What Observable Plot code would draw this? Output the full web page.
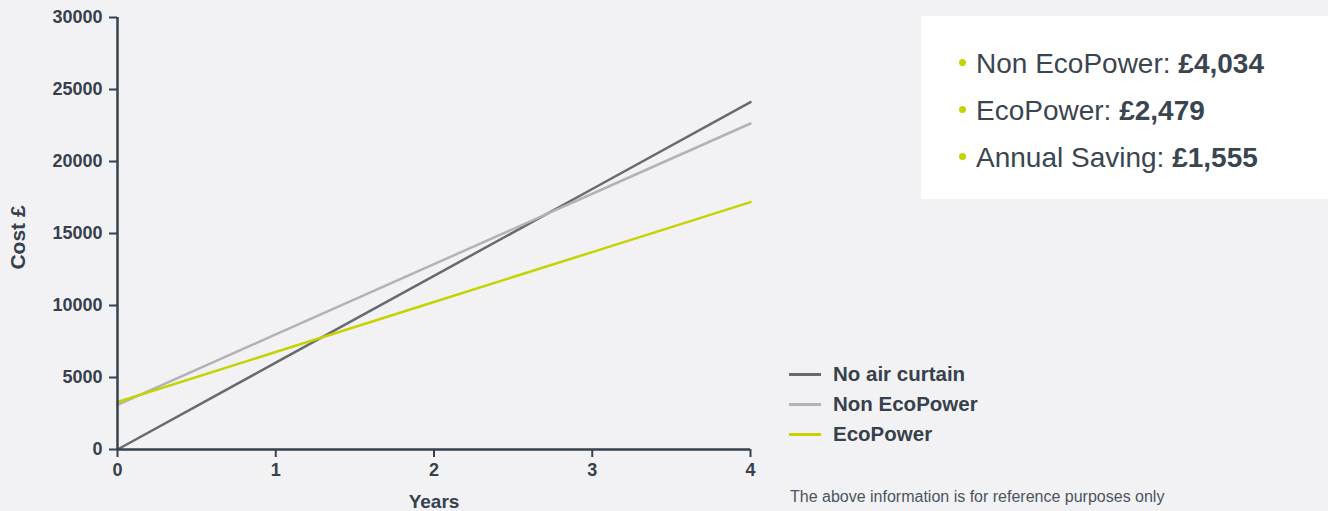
<!DOCTYPE html>
<html>
<head>
<meta charset="utf-8">
<script src="https://cdn.jsdelivr.net/npm/d3@7"></script>
<script src="https://cdn.jsdelivr.net/npm/@observablehq/plot@0.6"></script>
<style>
  html, body { margin: 0; padding: 0; background: #f2f2f4; }
  body { width: 1328px; height: 511px; position: relative; overflow: hidden;
         font-family: "Liberation Sans", Arial, Helvetica, sans-serif; color: #36414c; }
  #chart { position: absolute; left: 0; top: 0; }
  #legend { position: absolute; left: 789px; top: 359px; }
  .li { display: flex; align-items: center; height: 30px; font-weight: bold; font-size: 20.5px; }
  .li .sw { width: 32px; height: 3px; margin-right: 12px; }
  #info { position: absolute; left: 921px; top: 16px; width: 407px; height: 183px; background: #ffffff; }
  #info .row { position: absolute; left: 38px; font-size: 28px; font-weight: normal; white-space: nowrap; line-height: 1; color: #3a4550; }
  #info .row b { font-weight: bold; }
  #info .dot { display: inline-block; width: 7px; height: 7px; border-radius: 50%; margin-right: 10px; vertical-align: middle; position: relative; top: -3px; }
  #note { position: absolute; left: 790px; top: 488px; font-size: 16px; color: #4a5561; }
</style>
</head>
<body>
<div id="chart"></div>
<div id="legend"></div>
<div id="info"></div>
<div id="note">The above information is for reference purposes only</div>
<script>
// ---- data ----
const years = [0, 1, 2, 3, 4];
const noAirCurtain = [0, 6030, 12060, 18090, 24120];
const nonEcoPower = [3100, 7990, 12870, 17760, 22640];
const ecoPower = [3300, 6770, 10240, 13710, 17180];
const seriesNames = ["No air curtain", "Non EcoPower", "EcoPower"];
const seriesColors = ["#676a73", "#b2b2b7", "#c6d300"];
const yTicks = [0, 5000, 10000, 15000, 20000, 25000, 30000];
const xTicks = [0, 1, 2, 3, 4];
const infoLabels = ["Non EcoPower:", "EcoPower:", "Annual Saving:"];
const infoValues = ["£4,034", "£2,479", "£1,555"];

const seriesValues = [noAirCurtain, nonEcoPower, ecoPower];
const rows = [];
seriesNames.forEach((name, i) => {
  years.forEach((yr, j) => rows.push({ series: name, year: yr, cost: seriesValues[i][j] }));
});

const axisColor = "#36414c";
const plot = Plot.plot({
  width: 1328,
  height: 511,
  marginLeft: 117,
  marginRight: 578,
  marginTop: 17,
  marginBottom: 62,
  style: { background: "transparent", fontFamily: "'Liberation Sans', Arial, sans-serif", color: axisColor },
  x: { domain: [0, 4] },
  y: { domain: [0, 30000] },
  color: { domain: seriesNames, range: seriesColors },
  marks: [
    Plot.line(rows, { x: "year", y: "cost", z: "series", stroke: "series", strokeWidth: 2.5 }),
    Plot.axisY({ ticks: yTicks, tickSize: 8, tickPadding: 7, tickFormat: d => String(d), fontSize: 18, fontWeight: "bold", stroke: axisColor, strokeWidth: 2, fill: axisColor, label: null }),
    Plot.axisX({ ticks: xTicks, tickSize: 8, tickPadding: 6, tickFormat: d => String(d), fontSize: 18, fontWeight: "bold", stroke: axisColor, strokeWidth: 2, fill: axisColor, label: null }),
    Plot.ruleX([0], { stroke: axisColor, strokeWidth: 2.5 }),
    Plot.ruleY([0], { stroke: axisColor, strokeWidth: 2.5 }),
    Plot.text(["Cost £"], { frameAnchor: "left", rotate: -90, textAnchor: "middle", dx: -99, dy: 4, fontSize: 21, fontWeight: "bold", fill: axisColor }),
    Plot.text(["Years"], { frameAnchor: "bottom", textAnchor: "middle", lineAnchor: "middle", dy: 52, fontSize: 19, fontWeight: "bold", fill: axisColor })
  ]
});
document.getElementById("chart").append(plot);

const legend = document.getElementById("legend");
seriesNames.forEach((n, i) => {
  const d = document.createElement("div");
  d.className = "li";
  d.innerHTML = `<span class="sw" style="background:${seriesColors[i]}"></span><span>${n}</span>`;
  legend.append(d);
});

const info = document.getElementById("info");
infoLabels.forEach((l, i) => {
  const d = document.createElement("div");
  d.className = "row";
  d.style.top = (34 + i * 47) + "px";
  d.innerHTML = `<span class="dot" style="background:${seriesColors[2]}"></span>${l} <b>${infoValues[i]}</b>`;
  info.append(d);
});
</script>
</body>
</html>
